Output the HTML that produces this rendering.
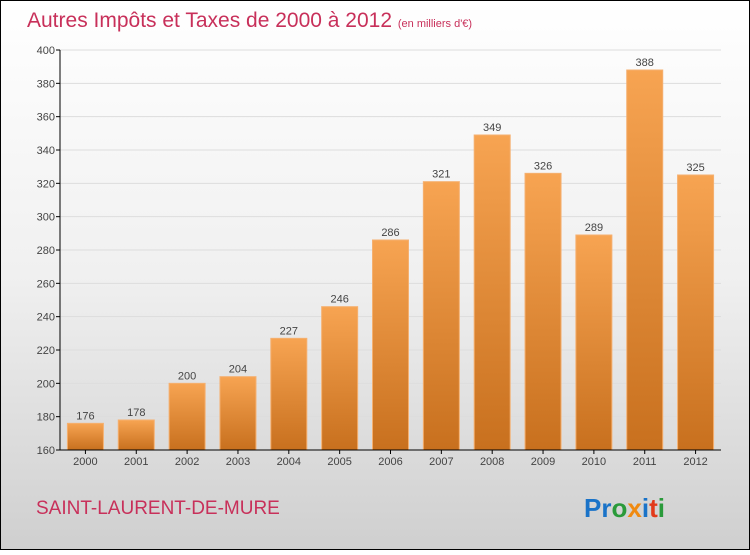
<!DOCTYPE html>
<html><head><meta charset="utf-8"><style>
html,body{margin:0;padding:0}
body{width:750px;height:550px;overflow:hidden;font-family:"Liberation Sans",sans-serif}
</style></head><body>
<svg width="750" height="550" xmlns="http://www.w3.org/2000/svg">
<defs>
<linearGradient id="bg" x1="0" y1="0" x2="0" y2="1"><stop offset="0" stop-color="#ffffff"/><stop offset="0.5" stop-color="#f0f0f0"/><stop offset="1" stop-color="#cfcfcf"/></linearGradient>
<linearGradient id="bar" x1="0" y1="0" x2="0" y2="1"><stop offset="0" stop-color="#f7a452"/><stop offset="1" stop-color="#c8701e"/></linearGradient>
</defs>
<rect x="0.5" y="0.5" width="749" height="549" fill="url(#bg)" stroke="#000"/>
<text x="27" y="27" font-size="21" fill="#c8305a">Autres Impôts et Taxes de 2000 à 2012 <tspan font-size="11">(en milliers d'€)</tspan></text>
<g id="grid"></g><g id="bars"></g><g id="axes"></g>
<text x="36" y="514" font-size="19" fill="#c8305a">SAINT-LAURENT-DE-MURE</text>
<text x="584" y="517" font-size="26" font-weight="bold"><tspan fill="#1a73c8">Pr</tspan><tspan fill="#2a9a3a">o</tspan><tspan fill="#f08a10">x</tspan><tspan fill="#1a73c8">i</tspan><tspan fill="#e23a1a">t</tspan><tspan fill="#2a9a3a">i</tspan></text>
</svg>
<script>
const years=["2000","2001","2002","2003","2004","2005","2006","2007","2008","2009","2010","2011","2012"];
const values=[176,178,200,204,227,246,286,321,349,326,289,388,325];
const ticks=[160,180,200,220,240,260,280,300,320,340,360,380,400];
const NS="http://www.w3.org/2000/svg";
const x0=60,x1=721,yTop=50,yBot=450,vMin=160,vMax=400;
const step=(x1-x0)/years.length;
const y=v=>yBot-(v-vMin)/(vMax-vMin)*(yBot-yTop);
function mk(t,a,p){const e=document.createElementNS(NS,t);for(const k in a)e.setAttribute(k,a[k]);p.appendChild(e);return e;}
const grid=document.getElementById('grid'),bars=document.getElementById('bars'),axes=document.getElementById('axes');
ticks.forEach(t=>{
  const l=mk('line',{x1:x0,x2:x1,y1:y(t),y2:y(t),stroke:'#dddddd'},grid);
  
  
  const tk=mk('line',{x1:x0-4,x2:x0,y1:y(t),y2:y(t),stroke:'#000'},axes);
  
  
  const tx=mk('text',{x:x0-5,y:y(t)+4,'font-size':11,'text-anchor':'end',fill:'#444'},axes);
  tx.textContent=t;
  
  
});
years.forEach((yr,i)=>{
  const cx=x0+step*(i+0.5),w=36;
  const r=mk('rect',{x:cx-w/2,y:y(values[i]),width:w,height:yBot-y(values[i]),fill:'url(#bar)',stroke:'#f5b070','stroke-width':1},bars);
  
  
  const v=mk('text',{x:cx,y:y(values[i])-4,'font-size':11,'text-anchor':'middle',fill:'#444'},bars);
  v.textContent=values[i];
  
  
  const tk=mk('line',{x1:cx,x2:cx,y1:yBot,y2:yBot+4,stroke:'#000'},axes);
  
  
  const t=mk('text',{x:cx,y:yBot+15,'font-size':11,'text-anchor':'middle',fill:'#444'},axes);
  t.textContent=yr;
  
  
});
const ya=mk('line',{x1:x0,x2:x0,y1:yTop,y2:yBot,stroke:'#000'},axes);


const xa=mk('line',{x1:x0,x2:x1,y1:yBot,y2:yBot,stroke:'#000'},axes);


</script>
</body></html>
